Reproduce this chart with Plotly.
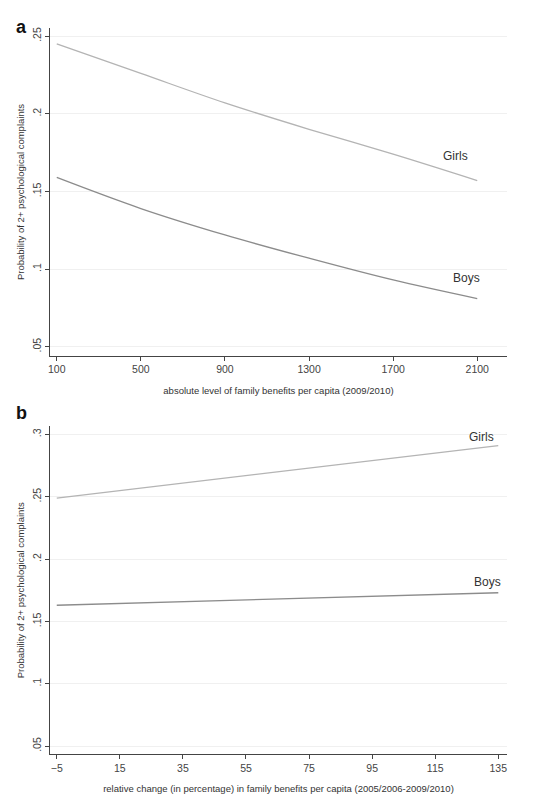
import plotly.graph_objects as go

a_x = [100, 500, 900, 1300, 1700, 2100]
a_girls = [0.245, 0.226, 0.207, 0.190, 0.174, 0.157]
a_boys = [0.159, 0.139, 0.122, 0.107, 0.093, 0.081]
b_x = [-5, 135]
b_girls = [0.249, 0.291]
b_boys = [0.163, 0.173]
a_yticks = [0.05, 0.1, 0.15, 0.2, 0.25]
a_ylabels = [".05", ".1", ".15", ".2", ".25"]
b_yticks = [0.05, 0.1, 0.15, 0.2, 0.25, 0.3]
b_ylabels = [".05", ".1", ".15", ".2", ".25", ".3"]
b_xticks = [-5, 15, 35, 55, 75, 95, 115, 135]

fig = go.Figure()
fig.add_trace(go.Scatter(x=a_x, y=a_girls, mode="lines", line=dict(color="#b4b4b4", width=1.3, shape="spline"), xaxis="x", yaxis="y"))
fig.add_trace(go.Scatter(x=a_x, y=a_boys, mode="lines", line=dict(color="#8c8c8c", width=1.3, shape="spline"), xaxis="x", yaxis="y"))
fig.add_trace(go.Scatter(x=b_x, y=b_girls, mode="lines", line=dict(color="#b4b4b4", width=1.3), xaxis="x2", yaxis="y2"))
fig.add_trace(go.Scatter(x=b_x, y=b_boys, mode="lines", line=dict(color="#8c8c8c", width=1.3), xaxis="x2", yaxis="y2"))

font = dict(family="Liberation Sans, Arial", color="#333")
ax = dict(showline=True, linecolor="#444", linewidth=1, ticks="outside", ticklen=4, tickcolor="#444",
          tickfont=dict(size=10.5, color="#444"), zeroline=False)
ytitle = "Probability of 2+ psychological complaints"
S = 8 / 800
fig.update_layout(
    width=540, height=800, margin=dict(l=0, r=0, t=0, b=0), showlegend=False,
    plot_bgcolor="white", paper_bgcolor="white", font=font,
    xaxis=dict(ax, domain=[0.089 - 0.015, 0.939 - 0.015], range=[67, 2242], tickvals=a_x, showgrid=False,
               anchor="y", title=dict(text="absolute level of family benefits per capita (2009/2010)", font=dict(size=9.5), standoff=12)),
    yaxis=dict(ax, domain=[0.556 + S, 0.966 + S], range=[0.0442, 0.2551], tickvals=a_yticks, ticktext=a_ylabels,
               tickangle=-90, showgrid=True, gridcolor="#f0f0f0", anchor="x",
               title=dict(text=ytitle, font=dict(size=9.5), standoff=4)),
    xaxis2=dict(ax, domain=[0.089 - 0.015, 0.939 - 0.015], range=[-7.2, 137.8], tickvals=b_xticks, showgrid=False,
                anchor="y2", title=dict(text="relative change (in percentage) in family benefits per capita (2005/2006-2009/2010)", font=dict(size=9.5), standoff=12)),
    yaxis2=dict(ax, domain=[0.0575 + S, 0.4675 + S], range=[0.0436, 0.3064], tickvals=b_yticks, ticktext=b_ylabels,
                tickangle=-90, showgrid=True, gridcolor="#f0f0f0", anchor="x2",
                title=dict(text=ytitle, font=dict(size=9.5), standoff=4)),
    annotations=[
        dict(x=1996, y=0.173, xref="x", yref="y", text="Girls", showarrow=False, font=dict(size=12, color="#333")),
        dict(x=2048, y=0.094, xref="x", yref="y", text="Boys", showarrow=False, font=dict(size=12, color="#333")),
        dict(x=129.6, y=0.2976, xref="x2", yref="y2", text="Girls", showarrow=False, font=dict(size=12, color="#333")),
        dict(x=131.5, y=0.182, xref="x2", yref="y2", text="Boys", showarrow=False, font=dict(size=12, color="#333")),
        dict(x=4/540, y=1 - 6/800, xref="paper", yref="paper", text="<b>a</b>", showarrow=False, font=dict(size=18, color="#111")),
        dict(x=4/540, y=1 - 405/800, xref="paper", yref="paper", text="<b>b</b>", showarrow=False, font=dict(size=18, color="#111")),
    ],
)
fig.write_html("out.html")
